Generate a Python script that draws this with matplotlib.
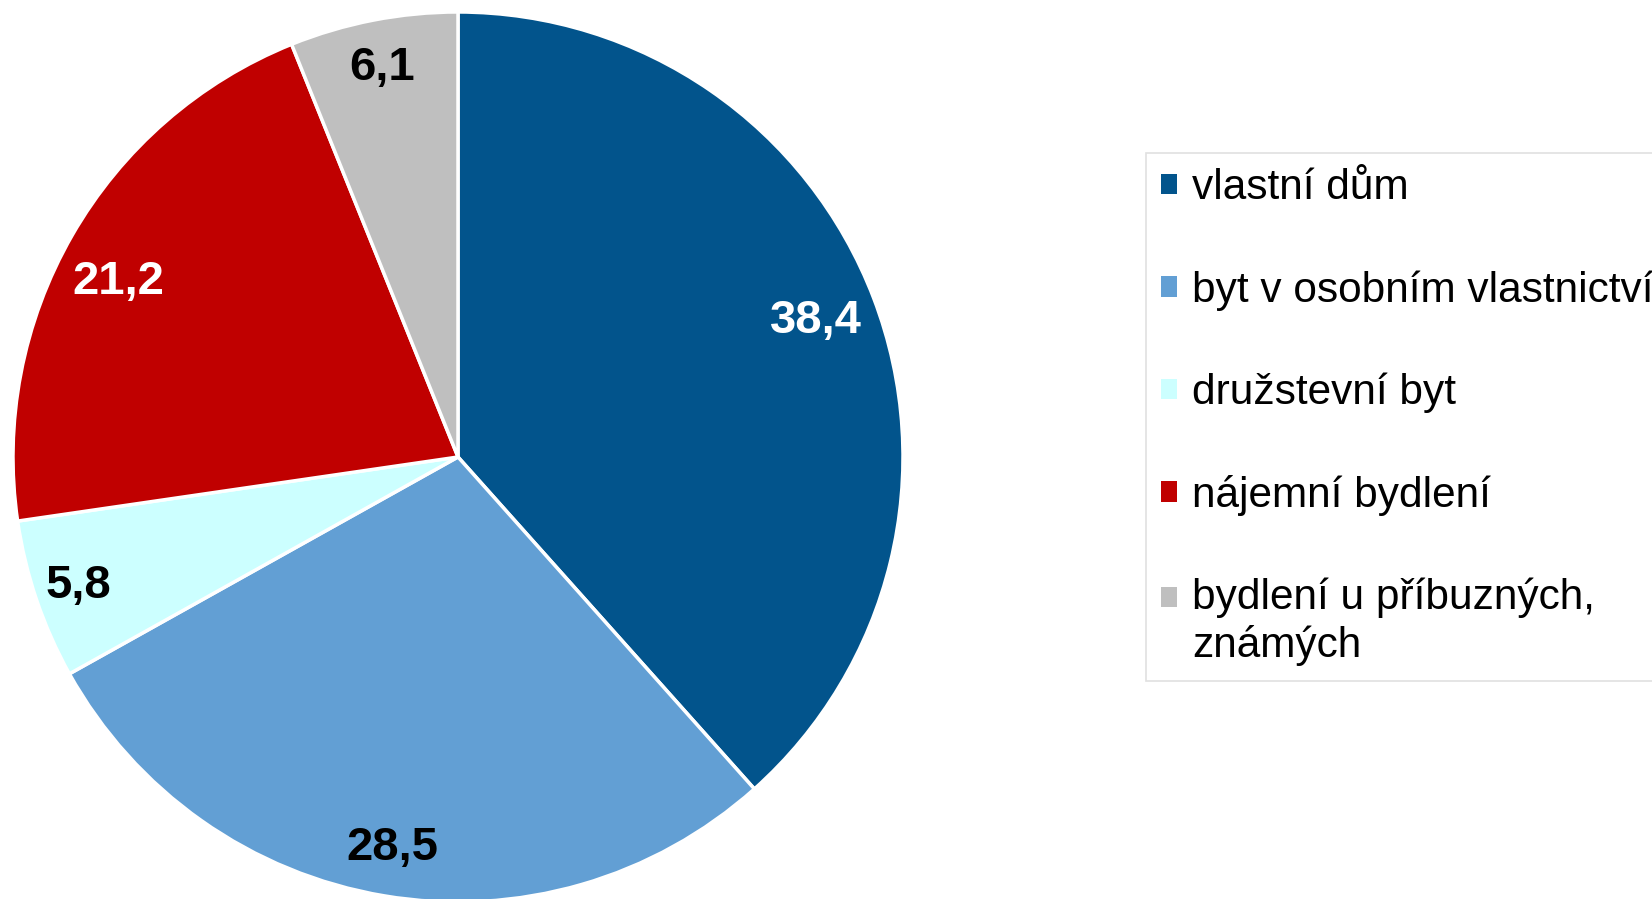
import numpy as np
import matplotlib.pyplot as plt
from matplotlib.patches import Patch, Rectangle
from matplotlib.legend_handler import HandlerPatch

plt.rcParams['font.family'] = ['Liberation Sans', 'DejaVu Sans']

# podíly typů bydlení (%)
categories = ['vlastní dům', 'byt v osobním vlastnictví', 'družstevní byt',
              'nájemní bydlení', 'bydlení u příbuzných,\nznámých']
values = [38.4, 28.5, 5.8, 21.2, 6.1]
value_labels = ['38,4', '28,5', '5,8', '21,2', '6,1']
colors = ['#02548C', '#629FD4', '#CCFFFF', '#C00000', '#BFBFBF']
label_colors = ['white', 'black', 'black', 'white', 'black']
# poloha popisků (vzdálenost od středu, posun úhlu)
label_dist = [0.86, 0.89, 0.90, 0.86, 0.89]
label_shift = [0, 0, 0, 2.6, 0]

fig = plt.figure(figsize=(16.52, 8.99), dpi=100)
ax = fig.add_axes([13/1652, -3/899, 890/1652, 890/899])

wedges, _ = ax.pie(values, colors=colors, startangle=90, counterclock=False,
                   wedgeprops=dict(edgecolor='white', linewidth=2.5))
for w, lab, c, d, s in zip(wedges, value_labels, label_colors, label_dist, label_shift):
    ang = np.deg2rad((w.theta1 + w.theta2) / 2 + s)
    ax.text(d*np.cos(ang), d*np.sin(ang), lab, color=c, fontsize=34,
            fontweight='bold', ha='center', va='center')

ax.set_xlim(-1, 1)
ax.set_ylim(-1, 1)
ax.axis('off')


# čtvereček u dvouřádkové položky zarovnat na první řádek
def first_line_patch(legend, orig_handle, xdescent, ydescent, width, height, fontsize):
    return Rectangle((-xdescent, -ydescent + 0.58*fontsize), width, height)


handles = [Patch(facecolor=c, edgecolor='none') for c in colors]
leg = fig.legend(handles, categories, loc='upper left',
                 bbox_to_anchor=(1146/1652, 1 - 153/899),
                 fontsize=30.5, frameon=True, fancybox=False,
                 handlelength=0.36, handleheight=0.36, handletextpad=0.36,
                 labelspacing=1.46, borderpad=0.36, borderaxespad=0,
                 handler_map={handles[4]: HandlerPatch(patch_func=first_line_patch)})
leg.get_frame().set_edgecolor('#D9D9D9')
leg.get_frame().set_linewidth(1.2)

fig.savefig('out.png', dpi=100)
